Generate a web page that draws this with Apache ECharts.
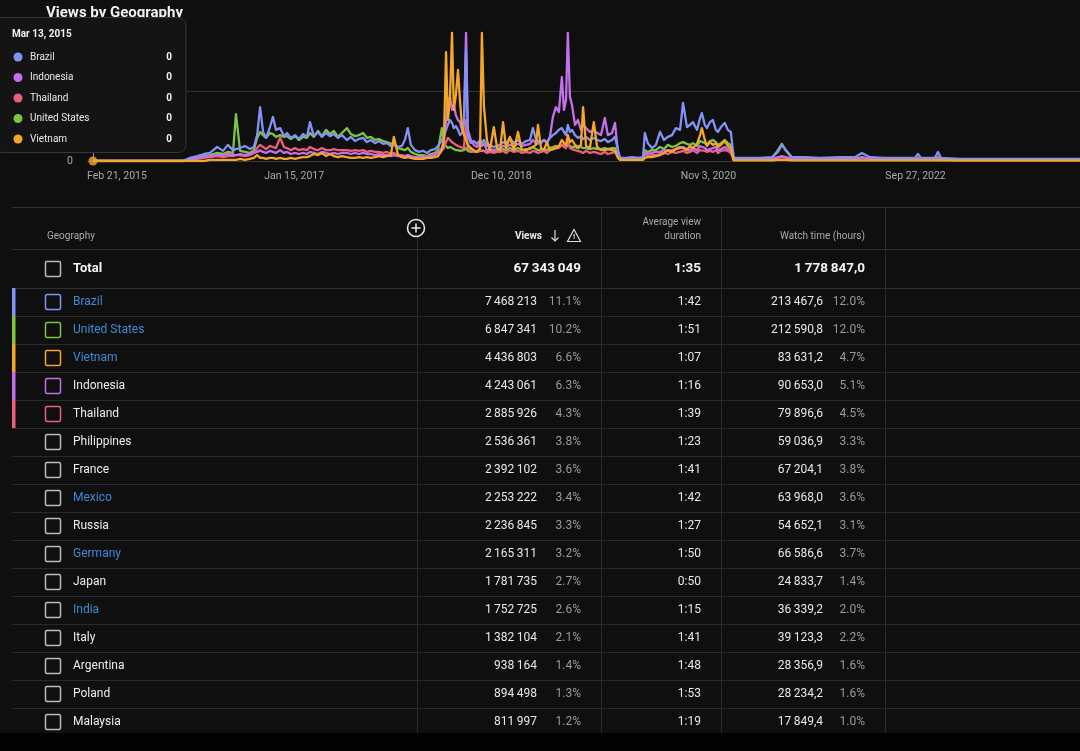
<!DOCTYPE html>
<html><head><meta charset="utf-8">
<script src="https://cdn.jsdelivr.net/npm/echarts@6/dist/echarts.min.js"></script>
<style>html,body{margin:0;padding:0;background:#0f0f0f;}#c{width:1080px;height:751px;}</style>
</head><body><div id="c"></div>
<script>
// ---------- chart data (day 0 = Feb 21, 2015; values in thousands of views per day) ----------
const days = [20,144,322,
345,369,392,412,436,456,472,489,499,513,529,546,559,
570,580,590,600,613,623,633,647,660,670,683,697,710,724,737,747,760,774,787,801,814,827,841,854,
871,884,898,911,925,938,951,965,978,992,1005,1018,1028,1042,1055,1065,1075,1085,1099,1112,1126,1139,1152,1166,1176,
1189,1196,1203,1209,1216,1223,1229,1236,1243,1250,1256,1263,1270,1276,1286,1296,1307,1317,1323,1330,1340,1350,1363,1374,
1384,1394,1404,1417,1430,1444,1457,1471,1484,1494,1504,1511,1521,1531,1541,1551,1561,1571,1581,1591,1598,1605,1611,1618,1625,1635,1645,1655,1662,1672,1685,1698,1709,1722,1735,1745,1759,1769,1779,
1786,1806,1826,1846,1863,
1869,1879,1893,1906,1920,1933,1946,1960,1973,1987,1997,2010,2020,2030,2044,2054,2060,2070,2077,2087,2097,2107,2114,2124,2137,2147,2157,
2167,2204,2255,2295,2315,2328,2342,2362,2405,2456,2523,2573,2596,2623,2673,2724,2774,2784,2794,2841,2851,2861,2925,3025,3126,3226,3327];

const brazil = [0,0,0,
0.9,1.4,2.0,2.3,4.0,2.9,4.6,3.1,3.4,3.7,4.3,3.4,4.0,
7.4,15.4,8.3,6.6,9.7,12.6,8.9,9.4,7.1,8.0,6.6,7.4,6.3,7.7,6.9,11.1,7.1,8.3,6.9,8.0,7.1,7.7,6.6,7.4,
6.0,6.9,5.7,6.3,6.6,5.4,6.0,5.1,5.7,4.9,5.1,4.3,4.6,4.0,4.3,6.0,9.4,4.6,3.1,2.6,2.9,2.3,3.1,3.4,4.3,
6.0,7.1,8.9,10.3,11.7,10.9,9.4,10.0,8.9,7.4,8.0,10.3,31.7,7.4,5.1,5.7,4.9,6.0,5.1,6.0,4.3,4.6,4.0,4.3,
4.6,5.4,4.9,6.6,5.1,6.0,4.9,5.7,6.0,9.4,6.3,5.7,5.1,6.0,5.4,6.6,7.4,8.0,8.9,9.4,8.3,7.4,10.3,8.3,8.9,7.4,6.6,7.1,6.3,6.9,6.0,6.6,6.0,5.7,6.3,5.4,6.0,6.9,3.1,
0.9,0.9,1.1,0.9,1.1,
8.0,5.1,3.7,4.6,8.3,6.0,6.9,7.4,9.4,8.9,16.6,9.7,10.3,11.1,8.9,12.3,13.7,10.3,9.4,11.1,11.7,8.9,8.3,9.7,10.9,8.9,8.3,
0.9,0.9,0.9,1.1,2.6,4.6,3.1,1.1,1.1,0.9,1.1,1.1,2.3,1.1,0.9,0.9,0.9,2.0,0.9,0.9,2.6,0.9,0.6,0.6,0.6,0.6,0.6];

const unitedStates = [0,0,0,
0.6,1.1,1.4,1.7,2.3,2.0,2.6,2.3,13.4,2.9,2.6,2.3,3.1,
6.6,8.3,7.4,6.6,8.0,7.7,6.9,7.4,6.9,7.1,6.3,7.1,6.0,6.9,6.6,8.0,6.9,8.6,7.1,8.9,7.7,8.6,6.9,8.0,
9.4,7.7,7.1,7.4,8.0,6.6,6.9,6.0,6.3,5.7,5.4,4.9,5.1,3.7,3.4,3.1,3.7,2.6,2.0,1.7,1.7,1.4,2.0,2.3,3.1,
9.4,4.6,4.3,3.7,4.0,3.7,3.4,3.1,3.1,2.9,2.9,3.1,3.7,2.9,2.6,2.9,2.6,2.9,2.6,2.9,2.6,2.9,2.6,2.9,
3.1,3.4,3.1,3.7,3.1,3.7,3.1,3.4,3.4,4.0,3.4,3.1,3.1,3.4,3.1,3.7,4.0,4.3,4.0,4.6,4.3,4.0,4.6,4.3,4.0,4.0,3.7,4.0,3.7,3.7,3.4,3.7,3.4,3.4,3.7,3.4,3.7,3.7,1.4,
0.6,0.3,0.6,0.3,0.6,
3.1,2.6,3.1,3.1,4.0,3.4,4.6,4.0,4.3,5.1,5.4,4.9,4.6,5.1,4.3,5.7,6.0,5.1,4.6,5.7,6.0,5.4,4.6,5.1,6.0,5.1,4.6,
0.3,0.6,0.6,0.9,3.1,4.9,2.9,0.9,0.6,0.6,0.6,0.6,1.1,0.6,0.3,0.3,0.3,0.9,0.3,0.3,1.1,0.3,0.3,0.3,0.3,0.3,0.3];

const vietnam = [0,0,0,
0,0,0,0.3,0.3,0.3,0.3,0.3,0.3,0.6,0.3,0.6,0.9,
1.7,0.9,0.9,0.6,0.9,0.9,0.6,0.9,0.6,0.6,0.9,0.6,0.9,1.1,1.1,1.4,2.0,1.7,2.3,1.4,2.0,1.4,1.1,1.4,
1.1,0.9,0.9,1.1,0.9,1.1,0.9,1.1,1.4,1.1,1.4,1.7,6.9,1.7,1.1,0.9,1.1,0.9,0.6,0.6,0.6,0.9,0.9,1.1,1.4,
3.1,6.0,31.1,11.7,17.4,36.6,14.6,18.9,26.0,16.9,10.3,7.4,6.0,4.6,3.7,3.1,2.6,3.7,36.6,15.4,6.0,3.1,9.7,3.7,
3.1,11.1,3.7,6.9,3.1,8.3,3.1,3.1,3.7,4.0,4.6,10.3,3.7,3.1,5.4,3.1,3.4,3.7,4.3,6.0,5.1,4.6,7.4,5.4,6.0,4.6,4.0,4.6,15.4,4.3,3.7,11.1,4.0,3.1,3.1,3.4,3.1,2.9,0.9,
0.3,0.3,0.3,0.3,0.3,
0.9,1.1,1.1,1.4,1.7,2.3,3.1,2.6,3.4,4.0,3.7,3.1,4.3,3.7,4.9,7.4,9.4,6.0,4.3,5.4,4.6,5.1,4.0,4.6,5.7,4.3,3.7,
0.2,0.2,0.2,0.2,0.3,0.3,0.3,0.2,0.2,0.2,0.2,0.2,0.2,0.2,0.2,0.2,0.2,0.2,0.2,0.2,0.2,0.2,0.1,0.1,0.1,0.1,0.1];

const indonesia = [0,0,0,
0.3,0.9,1.1,1.4,1.7,1.7,2.0,1.7,1.7,2.0,1.7,2.0,2.3,
2.6,3.1,2.6,2.3,2.9,2.6,2.3,3.1,2.3,2.6,2.0,2.3,2.0,2.3,2.0,2.6,2.3,2.0,2.6,2.3,2.0,2.3,2.0,2.3,
2.3,2.0,2.3,2.0,2.3,2.0,2.0,1.7,2.0,1.7,1.7,1.4,1.7,1.4,1.4,1.1,1.7,1.1,1.1,0.9,1.1,1.1,1.4,1.7,2.3,
3.7,6.0,11.7,17.4,18.3,14.6,16.0,13.1,11.7,11.1,8.9,11.7,36.6,8.9,6.0,4.6,4.0,5.1,4.3,4.9,3.1,3.4,3.1,3.4,
3.7,4.3,4.0,4.6,4.3,4.9,4.3,4.6,4.9,6.0,5.1,4.9,5.4,6.0,5.1,6.9,12.6,15.4,14.0,24.0,14.6,17.4,36.6,18.3,16.0,10.3,11.7,8.9,10.3,9.4,8.3,8.9,8.0,7.4,12.3,7.4,8.0,10.9,2.6,
0.6,0.6,0.6,0.6,0.6,
2.6,2.0,2.3,2.6,2.6,3.1,2.9,3.1,3.4,3.7,4.0,3.4,3.1,3.7,3.1,4.3,4.6,3.7,3.1,3.4,3.7,4.0,3.1,3.4,4.0,3.4,3.1,
0.3,0.3,0.3,0.6,0.9,1.1,0.9,0.6,0.6,0.6,0.6,0.6,0.9,0.6,0.3,0.3,0.3,0.6,0.3,0.3,0.6,0.3,0.3,0.3,0.3,0.3,0.3];

const thailand = [0,0,0,
0.3,0.6,0.9,1.1,1.4,1.1,1.4,1.4,1.7,1.7,1.4,1.7,2.3,
3.7,4.6,4.0,3.4,4.3,4.0,3.7,6.6,4.0,3.7,3.1,3.7,3.1,3.4,3.1,4.0,3.4,3.1,3.7,3.1,3.1,3.4,3.1,3.1,
3.1,2.9,3.1,2.9,3.1,2.6,2.9,2.6,2.6,2.3,2.6,2.0,2.3,1.7,1.7,1.4,1.7,1.4,1.1,1.1,1.1,1.4,1.4,2.0,2.6,
3.1,3.7,5.4,6.6,6.0,5.4,5.1,4.6,4.3,4.0,3.7,3.7,11.7,3.7,3.1,2.6,2.6,3.1,2.6,2.9,2.3,2.6,2.3,2.6,
2.6,2.9,2.3,3.1,2.6,2.9,2.3,2.6,2.3,2.9,2.6,2.3,2.6,2.9,2.3,3.1,3.4,3.7,3.7,4.6,4.0,3.7,6.0,3.7,3.4,3.1,2.9,2.6,2.3,2.9,2.3,2.6,2.3,2.0,2.6,2.0,2.3,2.6,1.1,
0.6,0.3,0.6,0.3,0.6,
2.0,1.4,1.7,1.7,2.0,2.3,2.0,2.6,2.3,2.6,2.9,2.3,2.6,3.1,2.3,3.1,3.4,2.9,2.6,2.9,2.6,3.1,2.3,2.9,3.1,2.9,2.3,
0.3,0.3,0.6,0.6,1.1,1.4,1.1,0.6,0.6,0.6,0.6,0.6,0.9,0.6,0.3,0.3,0.3,0.6,0.3,0.3,0.6,0.3,0.3,0.3,0.3,0.3,0.3];

const xTickLabels = ['Feb 21, 2015','Jan 15, 2017','Dec 10, 2018','Nov 3, 2020','Sep 27, 2022'];
const xTickStepDays = 694;
const xMaxDay = 3327;
const yTickStepK = 20;
const yMaxK = 40;
const hoverLabel = 'Mar 13, 2015';
const hoverIndex = 0;

// ---------- table data ----------
const geoNames = ['Brazil','United States','Vietnam','Indonesia','Thailand','Philippines','France','Mexico','Russia','Germany','Japan','India','Italy','Argentina','Poland','Malaysia'];
const geoViews = [7468213,6847341,4436803,4243061,2885926,2536361,2392102,2253222,2236845,2165311,1781735,1752725,1382104,938164,894498,811997];
const geoViewShare = [11.1,10.2,6.6,6.3,4.3,3.8,3.6,3.4,3.3,3.2,2.7,2.6,2.1,1.4,1.3,1.2];
const geoAvgDuration = ['1:42','1:51','1:07','1:16','1:39','1:23','1:41','1:42','1:27','1:50','0:50','1:15','1:41','1:48','1:53','1:19'];
const geoWatchHours = [213467.6,212590.8,83631.2,90653.0,79896.6,59036.9,67204.1,63968.0,54652.1,66586.6,24833.7,36339.2,39123.3,28356.9,28234.2,17849.4];
const geoWatchShare = [12.0,12.0,4.7,5.1,4.5,3.3,3.8,3.6,3.1,3.7,1.4,2.0,2.2,1.6,1.6,1.0];
const linkedGeos = ['Brazil','United States','Vietnam','Mexico','Germany','India'];
const totalViews = 67343049;
const totalAvgDuration = '1:35';
const totalWatchHours = 1778847.0;
const chartTitle = 'Views by Geography';

// ---------- styling ----------
const COLORS = {'Brazil':'#8393f5','United States':'#7cc540','Vietnam':'#f4a62a','Indonesia':'#c470ee','Thailand':'#ee5f7f'};
const SERIES = {'Brazil':brazil,'United States':unitedStates,'Vietnam':vietnam,'Indonesia':indonesia,'Thailand':thailand};
const drawOrder = ['United States','Thailand','Indonesia','Brazil','Vietnam'];
const tooltipOrder = ['Brazil','Indonesia','Thailand','United States','Vietnam'];
const FONT = 'Roboto, "DejaVu Sans", sans-serif';
const grp = n => String(n).replace(/\B(?=(\d{3})+(?!\d))/g, '\u2009');
const fmtHours = h => { const p = h.toFixed(1).split('.'); return grp(p[0]) + ',' + p[1]; };

const chart = echarts.init(document.getElementById('c'), null, {renderer:'canvas'});

const series = drawOrder.map(name => ({
  type:'line', name, silent:true, animation:false,
  showSymbol:false, symbol:'none',
  data: days.map((d,i) => [d, SERIES[name][i]]),
  lineStyle:{width:2.3, color:COLORS[name], join:'round'},
  itemStyle:{color:COLORS[name]}, z:2
}));
series.push({
  type:'scatter', name:'hover', silent:true, animation:false, z:6,
  data:[[days[hoverIndex], vietnam[hoverIndex]]],
  symbolSize:9, itemStyle:{color:COLORS['Vietnam']},
  markLine:{silent:true, symbol:['none','none'], label:{show:false}, animation:false,
    lineStyle:{color:'#8a8a8a', width:1, type:'solid'}, data:[{xAxis: days[hoverIndex]}]}
});

// ---------- graphic (title, tooltip card, table) ----------
const g = [];
const txt = (x,y,text,font,fill,align,z) => g.push({type:'text', x, y, z: z||10, silent:true,
  style:{text, font, fill, align: align||'left', verticalAlign:'middle'}});
const hline = (x1,x2,y,stroke) => g.push({type:'line', silent:true, z:1, shape:{x1, y1:y+0.5, x2, y2:y+0.5}, style:{stroke: stroke||'#2c2c2c', lineWidth:1}});
const vline = (x,y1,y2,stroke) => g.push({type:'line', silent:true, z:1, shape:{x1:x+0.5, y1, x2:x+0.5, y2}, style:{stroke: stroke||'#2c2c2c', lineWidth:1}});

// title
txt(46, 13, chartTitle, 'bold 15px '+FONT, '#f1f1f1', 'left', 20);

// tooltip card
g.push({type:'rect', z:50, silent:true, shape:{x:-6, y:17.5, width:192, height:135, r:8}, style:{fill:'#141414', stroke:'#363636', lineWidth:1}});
txt(12, 34, hoverLabel, 'bold 10px '+FONT, '#f1f1f1', 'left', 51);
tooltipOrder.forEach((name, k) => {
  const y = 57 + k*20.5;
  g.push({type:'circle', z:51, silent:true, shape:{cx:18, cy:y, r:4.5}, style:{fill:COLORS[name]}});
  txt(30, y, name, '10px '+FONT, '#e8e8e8', 'left', 51);
  txt(172, y, grp(Math.round(SERIES[name][hoverIndex]*1000)), 'bold 10px '+FONT, '#f1f1f1', 'right', 51);
});

// table frame
const colX = [417, 601, 721, 885];
const tableTop = 207, tableBottom = 733;
const rowY = i => 302 + i*28;
hline(12, 1080, tableTop, '#2e2e2e');
hline(12, 1080, 249, '#2e2e2e');
hline(12, 1080, 288, '#2e2e2e');
for (let k = 0; k < geoNames.length - 1; k++) hline(12, 1080, rowY(k) + 14, '#2a2a2a');
colX.forEach(x => vline(x, tableTop, tableBottom, '#2c2c2c'));

// header
txt(47, 236, 'Geography', '10px '+FONT, '#aaaaaa');
g.push({type:'circle', z:5, silent:true, shape:{cx:416, cy:228, r:8.5}, style:{fill:'#0f0f0f', stroke:'#eeeeee', lineWidth:1.5}});
g.push({type:'line', z:6, silent:true, shape:{x1:411.5, y1:228, x2:420.5, y2:228}, style:{stroke:'#eeeeee', lineWidth:1.5}});
g.push({type:'line', z:6, silent:true, shape:{x1:416, y1:223.5, x2:416, y2:232.5}, style:{stroke:'#eeeeee', lineWidth:1.5}});
txt(542, 236, 'Views', 'bold 10px '+FONT, '#e8e8e8', 'right');
g.push({type:'line', z:6, silent:true, shape:{x1:555, y1:230, x2:555, y2:241}, style:{stroke:'#dddddd', lineWidth:1.2}});
g.push({type:'polyline', z:6, silent:true, shape:{points:[[551.5,237.5],[555,241],[558.5,237.5]]}, style:{stroke:'#dddddd', lineWidth:1.2, fill:null}});
g.push({type:'polygon', z:6, silent:true, shape:{points:[[574,229.5],[580.5,241.5],[567.5,241.5]]}, style:{stroke:'#dddddd', lineWidth:1.2, fill:null}});
txt(574, 237, '!', 'bold 8px '+FONT, '#dddddd', 'center');
txt(701, 222, 'Average view', '10px '+FONT, '#aaaaaa', 'right');
txt(701, 236, 'duration', '10px '+FONT, '#aaaaaa', 'right');
txt(865, 236, 'Watch time (hours)', '10px '+FONT, '#aaaaaa', 'right');

// total row
const boxAt = (y, stroke) => g.push({type:'rect', z:5, silent:true, shape:{x:45.5, y:y-7.5, width:15, height:15, r:1.5}, style:{fill:null, stroke, lineWidth:1.5}});
boxAt(269, '#bbbbbb');
txt(73, 269, 'Total', 'bold 13px '+FONT, '#f5f5f5');
txt(581, 269, grp(totalViews), 'bold 13.5px '+FONT, '#f5f5f5', 'right');
txt(701, 269, totalAvgDuration, 'bold 13.5px '+FONT, '#f5f5f5', 'right');
txt(865, 269, fmtHours(totalWatchHours), 'bold 13.5px '+FONT, '#f5f5f5', 'right');

// data rows
geoNames.forEach((name, i) => {
  const y = rowY(i);
  const col = COLORS[name];
  if (col) g.push({type:'rect', z:3, silent:true, shape:{x:12, y:y-14, width:3.5, height:28}, style:{fill:col}});
  boxAt(y, col || '#bbbbbb');
  txt(73, y, name, '12px '+FONT, linkedGeos.includes(name) ? '#3f8ad6' : '#eeeeee');
  txt(537, y, grp(geoViews[i]), '12px '+FONT, '#e8e8e8', 'right');
  txt(581, y, geoViewShare[i].toFixed(1) + '%', '12px '+FONT, '#9a9a9a', 'right');
  txt(701, y, geoAvgDuration[i], '12px '+FONT, '#e8e8e8', 'right');
  txt(823, y, fmtHours(geoWatchHours[i]), '12px '+FONT, '#e8e8e8', 'right');
  txt(865, y, geoWatchShare[i].toFixed(1) + '%', '12px '+FONT, '#9a9a9a', 'right');
});

// bottom dark strip
g.push({type:'rect', z:60, silent:true, shape:{x:0, y:tableBottom, width:1080, height:751-tableBottom}, style:{fill:'#020202'}});

chart.setOption({
  backgroundColor:'#0f0f0f',
  animation:false,
  textStyle:{fontFamily:FONT},
  grid:{left:87, right:0, top:21, bottom:590, containLabel:false},
  xAxis:{type:'value', min:0, max:xMaxDay, interval:xTickStepDays,
    axisLine:{show:true, lineStyle:{color:'#3a3a3a'}}, axisTick:{show:false}, splitLine:{show:false},
    axisLabel:{color:'#aaaaaa', fontSize:10.5, margin:10, showMaxLabel:false, showMinLabel:true, alignMinLabel:'left',
      formatter: v => {
        const k = Math.round(v / xTickStepDays);
        return (Math.abs(v - k*xTickStepDays) < 0.5 && xTickLabels[k]) ? xTickLabels[k] : '';
      }}},
  yAxis:{type:'value', min:0, max:yMaxK, interval:yTickStepK,
    axisLine:{show:false}, axisTick:{show:false},
    splitLine:{show:true, showMaxLine:false, showMinLine:false, lineStyle:{color:'#333333'}},
    axisLabel:{color:'#aaaaaa', fontSize:10.5, margin:14, showMaxLabel:false, formatter: v => v === 0 ? '0' : v + 'K'}},
  series,
  graphic:{elements:g}
});
</script></body></html>
